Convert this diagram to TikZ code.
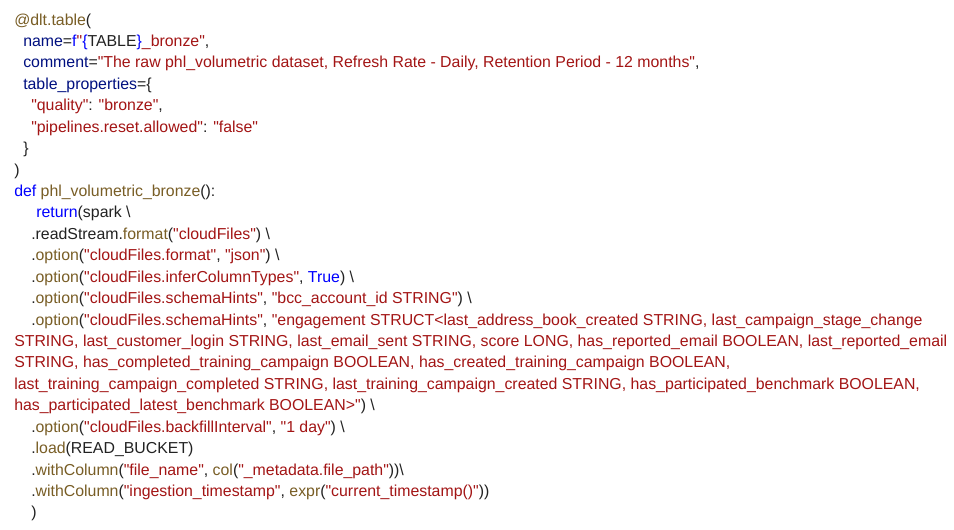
\documentclass[tikz,border=0pt]{standalone}
\usepackage{fontspec}
\setmainfont{Liberation Sans}[Ligatures=TeXOff]
\definecolor{cfn}{HTML}{795E26}
\definecolor{cvar}{HTML}{001080}
\definecolor{cstr}{HTML}{A31515}
\definecolor{ckw}{HTML}{0000FF}
\definecolor{cpl}{HTML}{222222}
\newcommand{\cf}[1]{\textcolor{cfn}{#1}}
\newcommand{\cv}[1]{\textcolor{cvar}{#1}}
\newcommand{\cs}[1]{\textcolor{cstr}{#1}}
\newcommand{\ck}[1]{\textcolor{ckw}{#1}}
\newcommand{\bs}{\textbackslash}
\begin{document}
\begin{tikzpicture}[x=0.75pt,y=-0.75pt,
  codeline/.style={anchor=base west,inner sep=0pt,font=\fontsize{11.9pt}{13pt}\selectfont,text=cpl}]
\useasboundingbox[fill=white] (0,0) rectangle (954,529);
\def\ln#1{25+21.43*(#1-1)}
\node[codeline] (l1) at (14,{\ln{1}}) {\cf{@dlt.table}(};
\node[codeline] (l2) at (23,{\ln{2}}) {\cv{name}=\ck{f}\cs{"}\ck{\{}TABLE\ck{\}}\cs{\_bronze"},};
\node[codeline] (l3) at (23,{\ln{3}}) {\cv{comment}=\cs{"The raw phl\_volumetric dataset, Refresh Rate - Daily, Retention Period - 12 months"},};
\node[codeline] (l4) at (23,{\ln{4}}) {\cv{table\_properties}=\{};
\node[codeline] (l5) at (31,{\ln{5}}) {\cs{"quality"}: \cs{"bronze"},};
\node[codeline] (l6) at (31,{\ln{6}}) {\cs{"pipelines.reset.allowed"}: \cs{"false"}};
\node[codeline] (l7) at (23,{\ln{7}}) {\}};
\node[codeline] (l8) at (14,{\ln{8}}) {)};
\node[codeline] (l9) at (14,{\ln{9}}) {\ck{def} \cf{phl\_volumetric\_bronze}():};
\node[codeline] (l10) at (36,{\ln{10}}) {\ck{return}(spark \bs};
\node[codeline] (l11) at (31,{\ln{11}}) {.readStream.\cf{format}(\cs{"cloudFiles"}) \bs};
\node[codeline] (l12) at (31,{\ln{12}}) {.\cf{option}(\cs{"cloudFiles.format"}, \cs{"json"}) \bs};
\node[codeline] (l13) at (31,{\ln{13}}) {.\cf{option}(\cs{"cloudFiles.inferColumnTypes"}, \ck{True}) \bs};
\node[codeline] (l14) at (31,{\ln{14}}) {.\cf{option}(\cs{"cloudFiles.schemaHints"}, \cs{"bcc\_account\_id STRING"}) \bs};
\node[codeline] (l15) at (31,{\ln{15}}) {.\cf{option}(\cs{"cloudFiles.schemaHints"}, \cs{"engagement STRUCT<last\_address\_book\_created STRING, last\_campaign\_stage\_change}};
\node[codeline] (l16) at (14,{\ln{16}}) {\cs{STRING, last\_customer\_login STRING, last\_email\_sent STRING, score LONG, has\_reported\_email BOOLEAN, last\_reported\_email}};
\node[codeline] (l17) at (14,{\ln{17}}) {\cs{STRING, has\_completed\_training\_campaign BOOLEAN, has\_created\_training\_campaign BOOLEAN,}};
\node[codeline] (l18) at (14,{\ln{18}}) {\cs{last\_training\_campaign\_completed STRING, last\_training\_campaign\_created STRING, has\_participated\_benchmark BOOLEAN,}};
\node[codeline] (l19) at (14,{\ln{19}}) {\cs{has\_participated\_latest\_benchmark BOOLEAN>"}) \bs};
\node[codeline] (l20) at (31,{\ln{20}}) {.\cf{option}(\cs{"cloudFiles.backfillInterval"}, \cs{"1 day"}) \bs};
\node[codeline] (l21) at (31,{\ln{21}}) {.\cf{load}(READ\_BUCKET)};
\node[codeline] (l22) at (31,{\ln{22}}) {.\cf{withColumn}(\cs{"file\_name"}, \cf{col}(\cs{"\_metadata.file\_path"}))\bs};
\node[codeline] (l23) at (31,{\ln{23}}) {.\cf{withColumn}(\cs{"ingestion\_timestamp"}, \cf{expr}(\cs{"current\_timestamp()"}))};
\node[codeline] (l24) at (31,{\ln{24}}) {)};
\end{tikzpicture}
\end{document}
